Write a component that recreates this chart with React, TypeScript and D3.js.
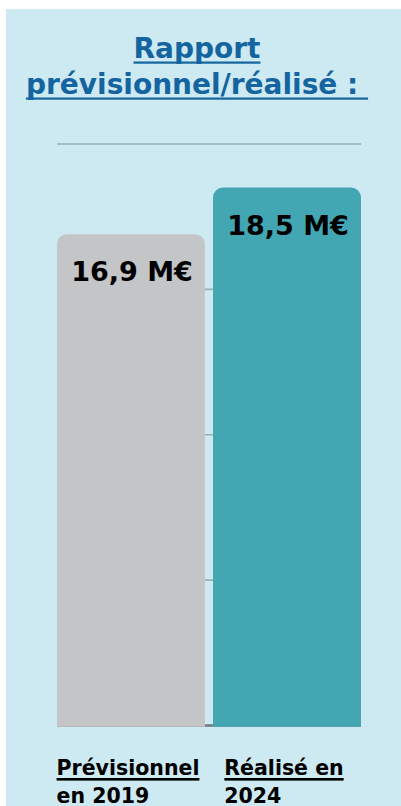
import React, { useEffect, useRef } from 'react';
import * as d3 from 'd3';

const categories = ['Prévisionnel en 2019', 'Réalisé en 2024'];
const labelLines = [['Prévisionnel', 'en 2019'], ['Réalisé en', '2024']];
const values = [16.9, 18.5];
const valueLabels = ['16,9 M€', '18,5 M€'];
const yTicks = [0, 5, 10, 15, 20];
const titleLines = ['Rapport', 'prévisionnel/réalisé : '];

const W = 401;
const H = 806;
const FONT = '"DejaVu Sans", sans-serif';

// souligne un texte avec un trait plus épais que text-decoration
function underline(g: d3.Selection<SVGGElement, unknown, null, undefined>, node: SVGTextElement, color: string, dy: number, thick: number) {
  const b = node.getBBox();
  const w = node.getComputedTextLength();
  g.append('rect')
    .attr('x', b.x)
    .attr('y', +node.getAttribute('y')! + dy)
    .attr('width', w)
    .attr('height', thick)
    .attr('fill', color);
}

export default function App() {
  const svgRef = useRef<SVGSVGElement>(null);

  useEffect(() => {
    if (!svgRef.current) return;
    const svg = d3.select(svgRef.current);
    svg.selectAll('*').remove();

    const left = 57;
    const right = 361;
    const top = 144;
    const bottom = 725.5;

    const x = d3.scaleBand<string>()
      .domain(categories)
      .range([left, right])
      .paddingInner(8 / 156)
      .paddingOuter(0);

    const y = d3.scaleLinear().domain([0, 20]).range([bottom, top]);

    // titre
    const tg = svg.append('g');
    tg.selectAll('text')
      .data(titleLines)
      .join('text')
      .attr('x', 197)
      .attr('y', (_, i) => 58 + i * 36)
      .attr('text-anchor', 'middle')
      .attr('font-family', FONT)
      .attr('font-weight', 'bold')
      .attr('font-size', 28)
      .attr('fill', '#14649f')
      .style('white-space', 'pre')
      .text(d => d)
      .each(function () {
        underline(tg, this as SVGTextElement, '#14649f', 3.5, 2.2);
      });

    // grille
    svg.append('g')
      .selectAll('line')
      .data(yTicks)
      .join('line')
      .attr('x1', left)
      .attr('x2', right)
      .attr('y1', d => y(d))
      .attr('y2', d => y(d))
      .attr('stroke', d => (d === 0 ? '#6e767b' : '#9badb6'))
      .attr('stroke-width', d => (d === 0 ? 2.4 : 1.6));

    // barres à coins supérieurs arrondis
    const r = 10;
    const colors = ['#c4c5c7', '#42a7b3'];
    svg.append('g')
      .selectAll('path')
      .data(values)
      .join('path')
      .attr('fill', (_, i) => colors[i])
      .attr('d', (d, i) => {
        const x0 = x(categories[i])!;
        const x1 = x0 + x.bandwidth();
        const y0 = y(d);
        const yb = y(0) + 1.2;
        const p = d3.path();
        p.moveTo(x0, yb);
        p.lineTo(x0, y0 + r);
        p.arcTo(x0, y0, x0 + r, y0, r);
        p.lineTo(x1 - r, y0);
        p.arcTo(x1, y0, x1, y0 + r, r);
        p.lineTo(x1, yb);
        p.closePath();
        return p.toString();
      });

    // valeurs
    svg.append('g')
      .selectAll('text')
      .data(values)
      .join('text')
      .attr('x', (_, i) => x(categories[i])! + x.bandwidth() / 2 + 1)
      .attr('y', d => y(d) + 47)
      .attr('text-anchor', 'middle')
      .attr('font-family', FONT)
      .attr('font-weight', 'bold')
      .attr('font-size', 27)
      .attr('fill', '#000')
      .text((_, i) => valueLabels[i]);

    // étiquettes des catégories
    labelLines.forEach((lines, i) => {
      const g = svg.append('g');
      const texts = g.selectAll('text')
        .data(lines)
        .join('text')
        .attr('y', (_, j) => 774.5 + j * 28)
        .attr('font-family', FONT)
        .attr('font-weight', 'bold')
        .attr('font-size', 20.5)
        .attr('fill', '#000')
        .text(d => d);
      let maxW = 0;
      texts.each(function () {
        maxW = Math.max(maxW, (this as SVGTextElement).getComputedTextLength());
      });
      const cx = x(categories[i])! + x.bandwidth() / 2;
      texts.attr('x', cx - maxW / 2 - 3);
      texts.each(function () {
        underline(g, this as SVGTextElement, '#000', 3.5, 2.6);
      });
    });
  }, []);

  return (
    <div style={{ position: 'fixed', left: 0, top: 0, right: 0, bottom: 0, background: '#fff', overflow: 'hidden' }}>
      <div style={{ position: 'absolute', left: 6, top: 9, right: 0, bottom: 0, background: '#cde9f1' }} />
      <svg ref={svgRef} width={W} height={H} style={{ position: 'absolute', left: 0, top: 0, display: 'block' }} />
    </div>
  );
}
